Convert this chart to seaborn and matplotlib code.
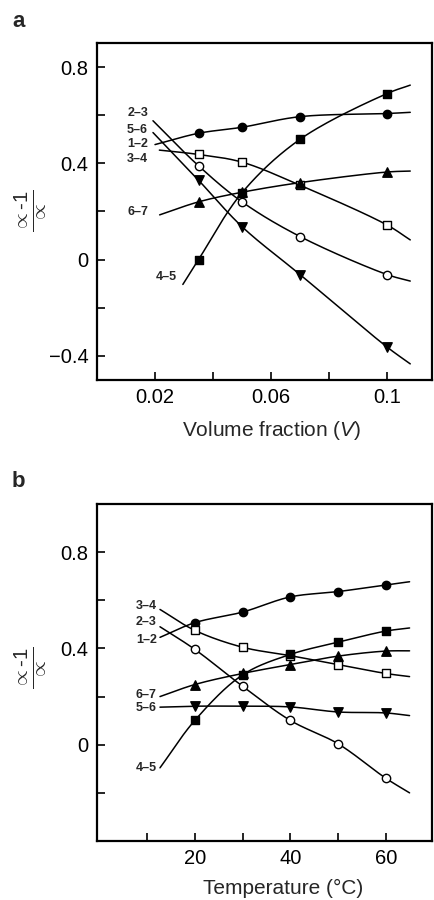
import numpy as np
import matplotlib
matplotlib.use("Agg")
import matplotlib.pyplot as plt
import seaborn as sns

sns.set_theme(style="white")
plt.rcParams['font.family'] = ['Liberation Sans', 'DejaVu Sans']
plt.rcParams['mathtext.fontset'] = 'custom'
plt.rcParams['mathtext.rm'] = 'Liberation Sans'
plt.rcParams['mathtext.it'] = 'Liberation Sans:italic'
plt.rcParams['mathtext.bf'] = 'Liberation Sans:bold'

# ---------------- data: panel a (volume fraction) ----------------
xa = [0.035, 0.05, 0.07, 0.10]
a_12 = [0.525, 0.55, 0.594, 0.607]    # filled circles
a_34 = [0.437, 0.405, 0.309, 0.144]   # open squares
a_67 = [0.24, 0.28, 0.32, 0.364]      # filled up-triangles
a_45 = [0.0, 0.278, 0.50, 0.69]       # filled squares
a_23 = [0.39, 0.24, 0.096, -0.062]    # open circles
a_56 = [0.33, 0.137, -0.062, -0.363]  # filled down-triangles
# curve starts (at labels) and ends
a_start_x = {"1–2": 0.0200, "3–4": 0.0215, "6–7": 0.0216, "4–5": 0.0296, "2–3": 0.0193, "5–6": 0.0193}
a_start_y = {"1–2": 0.478, "3–4": 0.455, "6–7": 0.186, "4–5": -0.103, "2–3": 0.577, "5–6": 0.528}
a_end_x = 0.108
a_end_y = {"1–2": 0.612, "3–4": 0.082, "6–7": 0.368, "4–5": 0.725, "2–3": -0.089, "5–6": -0.433}
a_label_pos = {"2–3": (0.0176, 0.610), "5–6": (0.0176, 0.540), "1–2": (0.0176, 0.482),
               "3–4": (0.0176, 0.420), "6–7": (0.0176, 0.198), "4–5": (0.0275, -0.074)}

# ---------------- data: panel b (temperature) ----------------
xb = [20, 30, 40, 50, 60]
b_12 = [0.507, 0.551, 0.614, 0.636, 0.664]
b_34 = [0.475, 0.405, 0.37, 0.333, 0.296]
b_23 = [0.396, 0.243, 0.101, 0.004, -0.139]
b_67 = [0.25, 0.296, 0.333, 0.368, 0.389]
b_45 = [0.101, 0.29, 0.375, 0.426, 0.472]
b_56 = [0.16, 0.16, 0.157, 0.136, 0.132]
b_start_x = 12.7
b_start_y = {"1–2": 0.446, "3–4": 0.562, "2–3": 0.49, "6–7": 0.20, "4–5": -0.096, "5–6": 0.156}
b_end_x = 65
b_end_y = {"1–2": 0.677, "3–4": 0.283, "2–3": -0.20, "6–7": 0.39, "4–5": 0.485, "5–6": 0.121}
b_label_pos = {"3–4": (12.0, 0.575), "2–3": (12.0, 0.508), "1–2": (12.0, 0.435),
               "6–7": (12.0, 0.208), "5–6": (12.0, 0.154), "4–5": (12.0, -0.096)}

styles = {
    "1–2": dict(marker="o", fc="black", s=36),
    "3–4": dict(marker="s", fc="white", s=34),
    "6–7": dict(marker="^", fc="black", s=46),
    "4–5": dict(marker="s", fc="black", s=34),
    "2–3": dict(marker="o", fc="white", s=36),
    "5–6": dict(marker="v", fc="black", s=46),
}


def centripetal(xs, ys, xr, yr, n=30, alpha=0.5):
    # work in roughly pixel-proportional coordinates
    sx, sy = (xr[1] - xr[0]), (yr[1] - yr[0])
    P = np.column_stack([np.asarray(xs, float) / sx, np.asarray(ys, float) / sy])
    P = np.vstack([2 * P[0] - P[1], P, 2 * P[-1] - P[-2]])
    out = []
    for i in range(1, len(P) - 2):
        p0, p1, p2, p3 = P[i - 1], P[i], P[i + 1], P[i + 2]
        t0 = 0.0
        t1 = t0 + np.linalg.norm(p1 - p0) ** alpha
        t2 = t1 + np.linalg.norm(p2 - p1) ** alpha
        t3 = t2 + np.linalg.norm(p3 - p2) ** alpha
        t = np.linspace(t1, t2, n)[:, None]
        A1 = (t1 - t) / (t1 - t0) * p0 + (t - t0) / (t1 - t0) * p1
        A2 = (t2 - t) / (t2 - t1) * p1 + (t - t1) / (t2 - t1) * p2
        A3 = (t3 - t) / (t3 - t2) * p2 + (t - t2) / (t3 - t2) * p3
        B1 = (t2 - t) / (t2 - t0) * A1 + (t - t0) / (t2 - t0) * A2
        B2 = (t3 - t) / (t3 - t1) * A2 + (t - t1) / (t3 - t1) * A3
        C = (t2 - t) / (t2 - t1) * B1 + (t - t1) / (t2 - t1) * B2
        out.append(C if i == 1 else C[1:])
    out = np.vstack(out)
    return out[:, 0] * sx, out[:, 1] * sy


def draw_series(ax, x, y, sx, sy, ex, ey, st, xr, yr):
    cx, cy = centripetal([sx] + list(x) + [ex], [sy] + list(y) + [ey], xr, yr)
    sns.lineplot(x=cx, y=cy, sort=False, estimator=None, color="black", lw=1.1, ax=ax)
    sns.scatterplot(x=x, y=y, marker=st["marker"], s=st["s"], color=st["fc"],
                    edgecolor="black", linewidth=1.0, ax=ax, zorder=3)


def style_axes(ax):
    for sp in ax.spines.values():
        sp.set_visible(True)
        sp.set_color("black")
        sp.set_linewidth(1.6)
    ax.tick_params(direction="in", length=6, width=1.2, labelsize=14.5, colors="black",
                   top=False, right=False, left=True, bottom=True, pad=6)
    ax.grid(False)


fig = plt.figure(figsize=(4.34, 9.0), dpi=100)
L, R = 97 / 434, 432 / 434
axa = fig.add_axes([L, (900 - 380) / 900, R - L, (380 - 43) / 900])
axb = fig.add_axes([L, (900 - 841) / 900, R - L, (841 - 504) / 900])

xlim_a, ylim_a = (0.0, 0.1155), (-0.5, 0.9)
xlim_b, ylim_b = (-0.5, 69.7), (-0.4, 1.0)

# panel a
series_a = {"1–2": a_12, "3–4": a_34, "6–7": a_67, "4–5": a_45, "2–3": a_23, "5–6": a_56}
for k, ys in series_a.items():
    draw_series(axa, xa, ys, a_start_x[k], a_start_y[k], a_end_x, a_end_y[k], styles[k], xlim_a, ylim_a)
for k, (tx, ty) in a_label_pos.items():
    axa.text(tx, ty, k, ha="right", va="center", fontsize=9, fontweight="bold")
axa.set_xlim(*xlim_a)
axa.set_ylim(*ylim_a)
axa.set_xticks([0.02, 0.04, 0.06, 0.08, 0.10])
axa.set_xticklabels(["0.02", "", "0.06", "", "0.1"])
axa.set_yticks([-0.4, -0.2, 0.0, 0.2, 0.4, 0.6, 0.8])
axa.set_yticklabels(["\u22120.4", "", "0", "", "0.4", "", "0.8"])
style_axes(axa)
axa.set_xlabel("")
axa.set_ylabel("")

# panel b
series_b = {"1–2": b_12, "3–4": b_34, "2–3": b_23, "6–7": b_67, "4–5": b_45, "5–6": b_56}
for k, ys in series_b.items():
    draw_series(axb, xb, ys, b_start_x, b_start_y[k], b_end_x, b_end_y[k], styles[k], xlim_b, ylim_b)
for k, (tx, ty) in b_label_pos.items():
    axb.text(tx, ty, k, ha="right", va="center", fontsize=9, fontweight="bold")
axb.set_xlim(*xlim_b)
axb.set_ylim(*ylim_b)
axb.set_xticks([10, 20, 30, 40, 50, 60])
axb.set_xticklabels(["", "20", "", "40", "", "60"])
axb.set_yticks([-0.2, 0.0, 0.2, 0.4, 0.6, 0.8])
axb.set_yticklabels(["", "0", "", "0.4", "", "0.8"])
style_axes(axb)
axb.set_xlabel("")
axb.set_ylabel("")

# axis titles
fig.text(272 / 434, 1 - 430 / 900, r"Volume fraction ($\it{V}$)", ha="center", va="center", fontsize=15)
fig.text(283 / 434, 1 - 888 / 900, "Temperature (°C)", ha="center", va="center", fontsize=15)
ylab = r"$\frac{\propto\text{-}1}{\propto}$"
fig.text(30 / 434, 1 - 211 / 900, ylab, rotation=90, ha="center", va="center", fontsize=21)
fig.text(30 / 434, 1 - 668 / 900, ylab, rotation=90, ha="center", va="center", fontsize=21)

# panel letters
fig.text(12 / 434, 1 - 27 / 900, "a", fontsize=16, fontweight="bold", ha="left", va="baseline")
fig.text(12 / 434, 1 - 487 / 900, "b", fontsize=16, fontweight="bold", ha="left", va="baseline")

fig.savefig("out.png", dpi=100)
